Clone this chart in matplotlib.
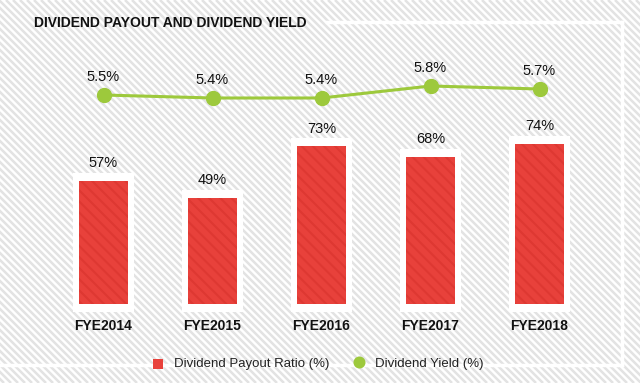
import matplotlib.pyplot as plt
from matplotlib.collections import LineCollection
import numpy as np

years = ['FYE2014', 'FYE2015', 'FYE2016', 'FYE2017', 'FYE2018']
payout = [57, 49, 73, 68, 74]
dividend_yield = [5.5, 5.4, 5.4, 5.8, 5.7]

RED = '#e8413b'
GREEN = '#9dc93c'
W, H = 640, 383

plt.rcParams['font.family'] = ['Liberation Sans', 'DejaVu Sans']
plt.rcParams['hatch.linewidth'] = 1.5

fig = plt.figure(figsize=(W / 100, H / 100), dpi=100)

# --- striped background ---
bg = fig.add_axes([0, 0, 1, 1])
bg.set_xlim(0, W)
bg.set_ylim(H, 0)
bg.axis('off')
offsets = np.arange(-H - 10, W + 10, 7)
segs = [[(c, 0), (c + H, H)] for c in offsets]
bg.add_collection(LineCollection(segs, colors='#e3e3e3', linewidths=1.8, zorder=1))
# white frame lines
bg.plot([327, 622], [22, 22], color='white', lw=2.5, zorder=2)
bg.plot([622, 622], [22, 365], color='white', lw=2.5, zorder=2)
bg.plot([0, 622], [365, 365], color='white', lw=2.5, zorder=2)

fig.text(34 / W, 1 - 23 / H, 'DIVIDEND PAYOUT AND DIVIDEND YIELD',
         fontsize=10, fontweight='bold', va='center', ha='left', color='#111111')

# --- bars ---
ax = fig.add_axes([49 / W, 1 - 304 / H, 545 / W, 244 / H])
ax.patch.set_alpha(0)
x = np.arange(len(years))
ax.set_xlim(-0.5, len(years) - 0.5)
ax.set_ylim(0, 244 / 2.16)

pad = 3.7
ax.bar(x, [v + 2 * pad for v in payout], bottom=-pad, width=0.56,
       color='white', clip_on=False, zorder=1)
ax.bar(x, payout, width=0.45, color=RED, edgecolor='#de3832', linewidth=0,
       hatch='\\\\\\', zorder=2)
for xi, v in zip(x, payout):
    ax.annotate(f'{v}%', (xi, v + pad), xytext=(0, 7), textcoords='offset points',
                ha='center', va='center', fontsize=10.5, color='#111111')

ax.set_xticks(x)
ax.set_xticklabels(years, fontweight='bold', fontsize=10, color='#111111')
ax.tick_params(axis='x', length=0, pad=11)
ax.set_yticks([])
for s in ax.spines.values():
    s.set_visible(False)

# --- yield line ---
ax2 = ax.twinx()
ax2.set_ylim(5.4 - 206 / 30, 5.4 - 206 / 30 + 244 / 30)
ax2.plot(x, dividend_yield, color=GREEN, lw=2.2, marker='o', markersize=10, zorder=3)
for xi, v in zip(x, dividend_yield):
    ax2.annotate(f'{v}%', (xi, v), xytext=(0, 13), textcoords='offset points',
                 ha='center', va='center', fontsize=10.5, color='#111111')
ax2.set_yticks([])
for s in ax2.spines.values():
    s.set_visible(False)

# --- legend ---
bg.scatter([158], [364], marker='s', s=60, color=RED, linewidths=0, zorder=5)
fig.text(174 / W, 1 - 364 / H, 'Dividend Payout Ratio (%)', fontsize=9.5,
         ha='left', va='center', color='#222222')
bg.scatter([359], [362], marker='o', s=75, color=GREEN, linewidths=0, zorder=5)
fig.text(375 / W, 1 - 364 / H, 'Dividend Yield (%)', fontsize=9.5,
         ha='left', va='center', color='#222222')

fig.savefig('out.png', dpi=100)
